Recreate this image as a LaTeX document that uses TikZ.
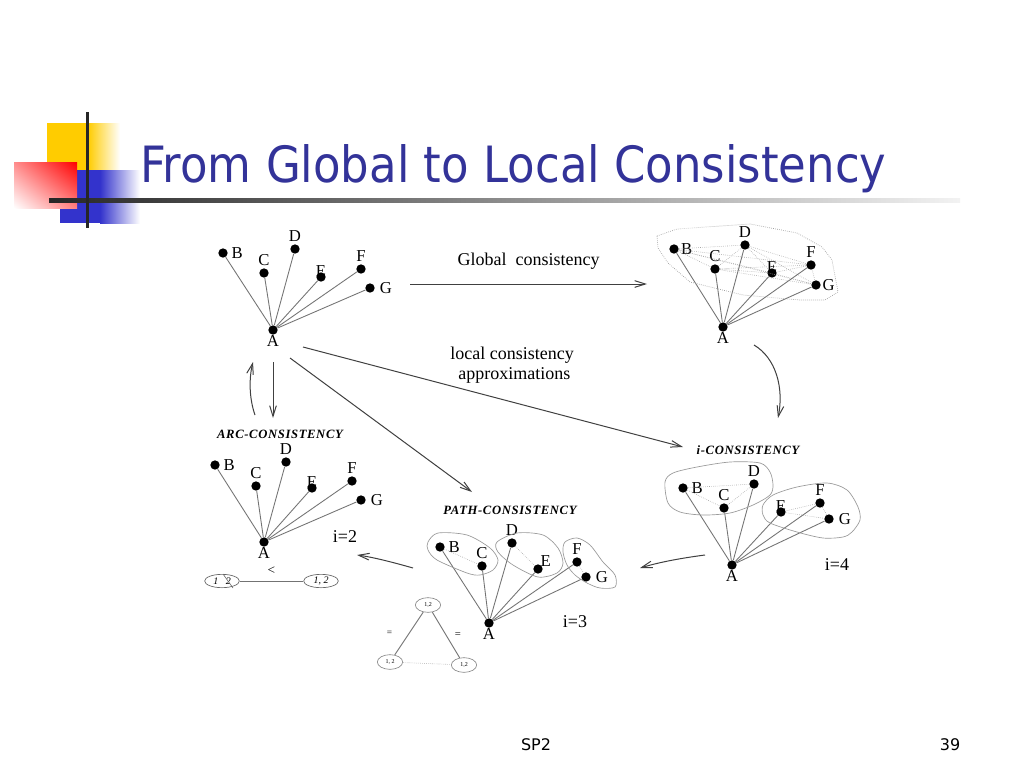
\documentclass[tikz,border=0pt]{standalone}
\usepackage{fontspec}
\setmainfont{Liberation Serif}
\newfontfamily\tahoma{DejaVu Sans}
\usetikzlibrary{positioning}
\usetikzlibrary{arrows.meta}
\usetikzlibrary{shapes.geometric}
\usetikzlibrary{shadings}
\definecolor{titleblue}{HTML}{333399}
\definecolor{logoyellow}{HTML}{FFCC00}
\definecolor{logoblue}{HTML}{3333CC}
\tikzset{>={Straight Barb[length=8pt,width=5pt]}}
\tikzset{
  dot/.style={circle,fill=black,inner sep=0pt,minimum size=7pt},
  edge/.style={draw=black!55,line width=0.65pt},
  weak/.style={draw=black!35,line width=0.45pt,densely dotted},
  hull/.style={draw=black!40,line width=0.5pt},
  arr/.style={->,draw=black!75,line width=0.75pt},
  lbl/.style={font=\fontsize{13.5}{15}\selectfont},
  head/.style={font=\fontsize{9.5}{10}\selectfont\bfseries\itshape\addfontfeatures{LetterSpace=5}},
  val/.style={ellipse,draw=black!60,line width=0.5pt,inner sep=0pt,minimum width=26pt,minimum height=10pt,font=\fontsize{7.5}{7.5}\selectfont\itshape},
  tinyval/.style={ellipse,draw=black!50,line width=0.45pt,inner sep=0pt,minimum width=19pt,minimum height=11pt,font=\fontsize{4.5}{5}\selectfont},
  every label/.style={font=\fontsize{12.5}{12.5}\selectfont,inner sep=0.5pt}
}

\begin{document}
\begin{tikzpicture}[x=0.75pt,y=-0.75pt]
  \useasboundingbox (0,0) rectangle (1024,768);
  \fill[white] (0,0) rectangle (1024,768);

  \fill[logoyellow] (47,123) rectangle (88,172);
  \shade[left color=logoyellow,right color=white] (88,123) rectangle (120,172);
  \fill[logoblue] (60,170) rectangle (100,223);
  \shade[left color=logoblue,right color=white] (100,170) rectangle (140,223);
  \shade[upper left=red!45!white,upper right=red,lower left=white,lower right=red!50!white] (14,162) rectangle (77,208);
  \shade[left color=black!85,right color=black!5] (49,198) rectangle (960,202);
  \fill[black!85] (85.5,112) rectangle (89,228);

  \node[anchor=base west,text=titleblue,inner sep=0pt,font=\tahoma\fontsize{37.5}{40}\selectfont] (title) at (140,182) {\scalebox{0.9}[1]{From Global to Local Consistency}};

  \foreach \n/\x/\y/\p/\d in {A/273/330/below/0pt, B/223/253/right/2pt, C/264/273/above/1pt, D/295/249/above/1pt, E/321/277/above/-4pt, F/361/269/above/1pt, G/370/288/right/3pt}
    \node[dot,label={[label distance=\d]\p:\n}] (st\n) at (\x,\y) {};
  \foreach \n in {B,...,G} \draw[edge] (stA) -- (st\n);

  \foreach \n/\x/\y/\p/\d in {A/723/327/below/0pt, B/674/249/right/1pt, C/715/269/above/1pt, D/745/245/above/1pt, E/772/273/above/-4pt, F/811/265/above/1pt, G/816/285/right/0.5pt}
    \node[dot,label={[label distance=\d]\p:\n}] (gl\n) at (\x,\y) {};
  \foreach \a/\b in {B/C,B/D,B/E,B/F,B/G,C/D,C/E,C/F,C/G,D/E,D/F,D/G,E/F,E/G,F/G}
    \draw[weak] (gl\a) -- (gl\b);
  \foreach \n in {B,...,G} \draw[edge] (glA) -- (gl\n);
  \draw[hull,densely dotted] (657,236) -- (677,229) -- (750,224) -- (797,233) -- (822,247) -- (832,260) -- (838,292) -- (825,300) -- (800,300) -- (743,295) -- (690,282) -- (668,263) -- (658,248) -- cycle;

  \foreach \n/\x/\y/\p/\d in {A/264/542/below/0pt, B/215/465/right/2pt, C/256/486/above/1pt, D/286/462/above/1pt, E/312/488/above/-4pt, F/352/481/above/1pt, G/361/500/right/3pt}
    \node[dot,label={[label distance=\d]\p:\n}] (ac\n) at (\x,\y) {};
  \foreach \n in {B,...,G} \draw[edge] (acA) -- (ac\n);
  \node[head] (acTitle) at (280,434) {ARC-CONSISTENCY};
  \node[lbl] (acI) at (345,537) {i=2};
  \node[val] (lv) at (222,581) {1\ \ \ 2};
  \node[val] (rv) at (321,581) {1, 2};
  \draw[black!60,line width=0.45pt] (223,574) -- (233,588);
  \draw[edge] (lv) -- (rv) node[midway,above=1pt,font=\fontsize{10}{10}\selectfont] {<};

  \foreach \n/\x/\y/\p/\d in {A/489/623/below/0pt, B/440/547/right/2pt, C/482/566/above/1pt, D/512/543/above/1pt, E/538/569/above right/-2pt, F/577/562/above/1pt, G/586/577/right/3pt}
    \node[dot,label={[label distance=\d]\p:\n}] (pc\n) at (\x,\y) {};
  \foreach \a/\b in {B/C,D/E,F/G} \draw[weak] (pc\a) -- (pc\b);
  \foreach \n in {B,...,G} \draw[edge] (pcA) -- (pc\n);
  \draw[hull] plot[smooth cycle] coordinates {(428,542) (438,533) (467,535) (490,548) (498,560) (493,570) (480,575) (467,573) (437,560) (428,550)};
  \draw[hull] plot[smooth cycle] coordinates {(497,542) (517,533) (543,535) (558,548) (563,563) (557,573) (538,577) (513,565) (498,552)};
  \draw[hull] plot[smooth cycle] coordinates {(565,542) (577,538) (590,545) (603,562) (615,575) (615,587) (600,588) (587,583) (575,575) (567,565) (563,552)};
  \node[head] (pcTitle) at (510,510) {PATH-CONSISTENCY};
  \node[lbl] (pcI) at (575,622) {i=3};
  \node[tinyval] (tt) at (428,605) {1,2};
  \node[tinyval] (tl) at (390,662) {1, 2};
  \node[tinyval] (tr) at (464,665) {1,2};
  \draw[edge] (tt) -- (tl) node[midway,left=9pt,font=\fontsize{7}{7}\selectfont] {=};
  \draw[edge] (tt) -- (tr) node[midway,right=3pt,font=\fontsize{8}{8}\selectfont] {=};
  \draw[weak] (tl) -- (tr);

  \foreach \n/\x/\y/\p/\d in {A/732/565/below/0pt, B/683/488/right/2pt, C/724/508/above/1pt, D/754/484/above/1pt, E/781/512/above/-4pt, F/820/503/above/1pt, G/829/519/right/3pt}
    \node[dot,label={[label distance=\d]\p:\n}] (ic\n) at (\x,\y) {};
  \foreach \a/\b in {B/C,B/D,C/D,E/F,E/G,F/G} \draw[weak] (ic\a) -- (ic\b);
  \foreach \n in {B,...,G} \draw[edge] (icA) -- (ic\n);
  \draw[hull] plot[smooth cycle] coordinates {(665,482) (673,473) (697,467) (730,462) (760,463) (770,472) (773,485) (770,495) (753,505) (730,513) (703,515) (680,512) (668,503)};
  \draw[hull] plot[smooth cycle] coordinates {(763,505) (773,495) (797,487) (827,483) (847,490) (858,507) (860,520) (852,532) (843,537) (823,538) (797,532) (770,523) (763,515)};
  \node[head] (icTitle) at (748,450) {i-CONSISTENCY};
  \node[lbl] (icI) at (837,565) {i=4};

  \coordinate (gs) at (410,284);
  \coordinate (ge) at (647,284);
  \draw[arr] (gs) -- (ge) node[midway,above=7pt,lbl] {Global\ \ consistency};
  \coordinate (ls) at (303,347);
  \coordinate (le) at (683,447);
  \draw[arr] (ls) -- (le);
  \node[lbl,align=center,inner sep=0pt] (loc) at (512,365) {local consistency\\ \ approximations};
  \coordinate (ps) at (290,358);
  \coordinate (pe) at (472,492);
  \draw[arr] (ps) -- (pe);
  \coordinate (ds) at (273,362);
  \coordinate (de) at (273,418);
  \draw[arr] (ds) -- (de);
  \coordinate (us) at (255,415);
  \coordinate (ue) at (253,362);
  \draw[arr] (us) .. controls (249,398) and (249,378) .. (ue);
  \coordinate (rs) at (754,345);
  \coordinate (re) at (778,418);
  \draw[arr] (rs) .. controls (776,358) and (784,388) .. (re);
  \coordinate (is) at (705,555);
  \coordinate (ie) at (640,568);
  \draw[arr] (is) .. controls (682,558) and (660,562) .. (ie);
  \coordinate (as) at (413,568);
  \coordinate (ae) at (357,555);
  \draw[arr] (as) .. controls (392,562) and (372,557) .. (ae);

  \node[font=\tahoma\fontsize{12}{12}\selectfont] (foot) at (536,745) {SP2};
  \node[font=\tahoma\fontsize{12}{12}\selectfont] (page) at (950,745) {39};
\end{tikzpicture}
\end{document}
